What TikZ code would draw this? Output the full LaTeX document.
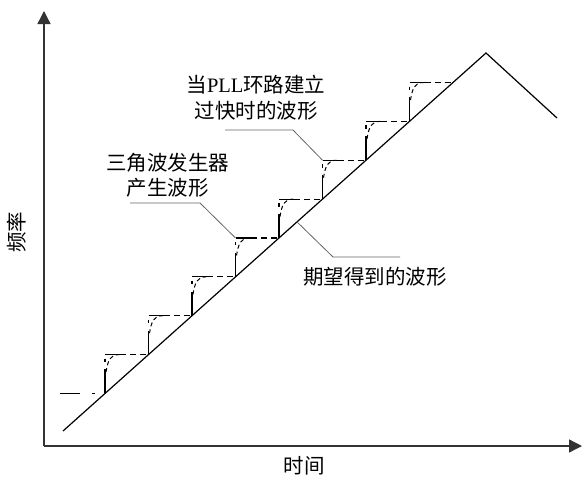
\documentclass[tikz,border=0pt]{standalone}
\usepackage{fontspec}
\setmainfont{Liberation Serif}
\newfontfamily\cjk{Noto Sans CJK SC}
\usetikzlibrary{arrows.meta}
\begin{document}
\begin{tikzpicture}[x=1pt,y=-1pt,
  axis/.style={line width=1.3pt, draw=black!80, -{Triangle[length=13pt,width=13pt]}},
  mainline/.style={line width=1.2pt},
  leader/.style={line width=0.8pt, draw=black!60},
  lbl/.style={font=\fontsize{20.5}{25.5}\selectfont\cjk, align=center, inner sep=0pt},
  solidseg/.style={line width=1.2pt},
  dsh/.style={line width=1.1pt, dash pattern=on 6pt off 4pt},
  fastcurve/.style={line width=1pt, dash pattern=on 4pt off 3pt}]
\useasboundingbox (0,0) rectangle (583,480);
% axes
\coordinate (O) at (44,446);
\coordinate (Ytip) at (44,11);
\coordinate (Xtip) at (582,446);
\draw[axis] (O) -- (Ytip);
\draw[axis] (O) -- (Xtip);
% desired triangle waveform
\coordinate (A) at (63,431);
\coordinate (P) at (486,53);
\coordinate (E) at (557,118);
\draw[mainline] (A) -- (P) -- (E);
% initial level
\coordinate (S0) at (60,393.5);
\coordinate (S1) at (80,393.5);
\coordinate (S2) at (92,393.5);
\coordinate (S3) at (94.5,393.5);
\draw[solidseg] (S0) -- (S1);
\draw[solidseg] (S2) -- (S3);
% staircase and fast PLL curves
\foreach \k in {0,...,7}{
  \pgfmathsetmacro\xa{105+43.5*\k}
  \pgfmathsetmacro\ya{431-0.8936*(\xa-63)}
  \pgfmathsetmacro\yt{\ya-38.87}
  \pgfmathsetmacro\xb{\xa+43.5}
  \pgfmathsetmacro\ym{\ya-0.62*38.87}
  \pgfmathsetmacro\yc{\ya-0.55*38.87}
  \pgfmathsetmacro\yd{\ya-0.85*38.87}
  \coordinate (B\k) at (\xa,\ya);
  \coordinate (M\k) at (\xa,\ym);
  \coordinate (T\k) at (\xa,\yt);
  \coordinate (H\k) at ({\xa+15},\yt);
  \coordinate (N\k) at (\xb,\yt);
  \draw[solidseg] (B\k) -- (M\k);
  \draw[solidseg] (\xa,{\yt+4}) -- (\xa,{\yt+7.5});
  \draw[solidseg] (T\k) -- (H\k);
  \draw[dsh] (H\k) -- (N\k);
  \draw[fastcurve] ({\xa+1},\yc) .. controls ({\xa+3},\yd) and ({\xa+5},\yt) .. ({\xa+14},\yt);
}
% labels
\node[lbl] (Lfast) at (256,97.5) {当{\rmfamily PLL}环路建立\\过快时的波形};
\node[lbl] (Ltri) at (167.5,175) {三角波发生器\\产生波形};
\node[lbl] (Ldes) at (375,277) {期望得到的波形};
\node[lbl, rotate=90] (Ly) at (17,232) {频率};
\node[lbl] (Lx) at (304,466) {时间};
% leaders
\coordinate (F1) at (225,130);
\coordinate (F2) at (293,130);
\draw[leader] (F1) -- (F2) -- (T5);
\coordinate (G1) at (130,203);
\coordinate (G2) at (200,203);
\draw[leader] (G1) -- (G2) -- (T3);
\coordinate (D) at (297,221.9);
\coordinate (D1) at (333,257);
\coordinate (D2) at (400,257);
\draw[leader] (D) -- (D1) -- (D2);
\end{tikzpicture}
\end{document}
